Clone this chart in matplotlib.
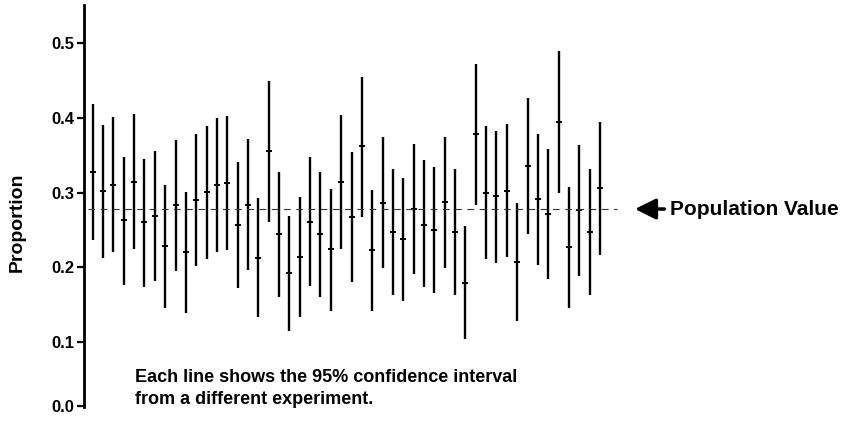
import matplotlib
matplotlib.use("Agg")
import matplotlib.pyplot as plt
import numpy as np

# 95% confidence intervals from 50 repeated experiments
lower = [0.236, 0.213, 0.220, 0.177, 0.224, 0.174, 0.182, 0.146, 0.195, 0.139,
         0.202, 0.211, 0.220, 0.223, 0.172, 0.196, 0.133, 0.261, 0.160, 0.115,
         0.133, 0.175, 0.160, 0.142, 0.224, 0.181, 0.268, 0.141, 0.199, 0.163,
         0.155, 0.191, 0.173, 0.166, 0.199, 0.163, 0.104, 0.283, 0.211, 0.206,
         0.214, 0.128, 0.244, 0.203, 0.185, 0.300, 0.145, 0.189, 0.163, 0.217]
center = [0.328, 0.302, 0.310, 0.263, 0.314, 0.260, 0.269, 0.228, 0.284, 0.220,
          0.290, 0.301, 0.310, 0.313, 0.257, 0.284, 0.213, 0.355, 0.244, 0.192,
          0.214, 0.261, 0.244, 0.224, 0.314, 0.268, 0.362, 0.223, 0.286, 0.247,
          0.238, 0.278, 0.257, 0.250, 0.287, 0.247, 0.179, 0.378, 0.299, 0.295,
          0.302, 0.207, 0.336, 0.291, 0.271, 0.394, 0.227, 0.277, 0.247, 0.306]
upper = [0.419, 0.391, 0.401, 0.348, 0.405, 0.345, 0.356, 0.310, 0.371, 0.301,
         0.378, 0.389, 0.400, 0.403, 0.341, 0.372, 0.293, 0.449, 0.328, 0.269,
         0.294, 0.347, 0.328, 0.305, 0.404, 0.354, 0.455, 0.303, 0.374, 0.331,
         0.320, 0.365, 0.343, 0.334, 0.375, 0.331, 0.255, 0.472, 0.389, 0.383,
         0.392, 0.286, 0.427, 0.379, 0.358, 0.489, 0.308, 0.364, 0.331, 0.395]
population_value = 0.278

y_ticks = [0.0144, 0.1, 0.2, 0.3, 0.4, 0.5]
y_tick_labels = ["0.0", "0.1", "0.2", "0.3", "0.4", "0.5"]

plt.rcParams["font.family"] = ["Liberation Sans", "DejaVu Sans"]
plt.rcParams["font.weight"] = "bold"

W, H = 858, 421
fig = plt.figure(figsize=(W / 100, H / 100), dpi=100)
ax = fig.add_axes([84 / W, 14 / H, (620 - 84) / W, (416 - 14) / H])

x = np.arange(1, len(center) + 1)
ax.vlines(x, lower, upper, color="black", linewidth=1.7)
ax.plot(x, center, linestyle="none", marker="_", markersize=5,
        markeredgewidth=1.4, color="black")

ax.hlines(population_value, 0.55, 51.64, color="#333333", linewidth=0.8,
          linestyles=(0, (6, 5)))

ax.set_xlim(0.16, 51.93)
ax.set_ylim(0.0131, 0.551)
ax.set_xticks([])
ax.set_yticks(y_ticks)
ax.set_yticklabels(y_tick_labels, fontsize=12, fontweight="bold")
ax.tick_params(axis="y", direction="out", length=5, width=1.6, pad=2)
for side in ["top", "right", "bottom"]:
    ax.spines[side].set_visible(False)
ax.spines["left"].set_linewidth(2)

fig.text(17 / W, 1 - 222 / H, "Proportion", rotation=90, fontsize=14,
         fontweight="bold", ha="center", va="center")

ax.annotate("Population Value", xy=(635, population_value),
            xytext=(670, population_value),
            xycoords=("figure pixels", "data"),
            textcoords=("figure pixels", "data"),
            fontsize=15, fontweight="bold", va="center", ha="left",
            annotation_clip=False,
            arrowprops=dict(arrowstyle="-|>,head_length=0.9,head_width=0.45",
                            mutation_scale=14, lw=2.5, color="black",
                            shrinkA=2, shrinkB=0))

fig.text(135 / W, 1 - 377 / H, "Each line shows the 95% confidence interval",
         fontsize=13, fontweight="bold", ha="left", va="center")
fig.text(135 / W, 1 - 400 / H, "from a different experiment.",
         fontsize=13, fontweight="bold", ha="left", va="center")

fig.savefig("out.png", dpi=100, facecolor="white")
